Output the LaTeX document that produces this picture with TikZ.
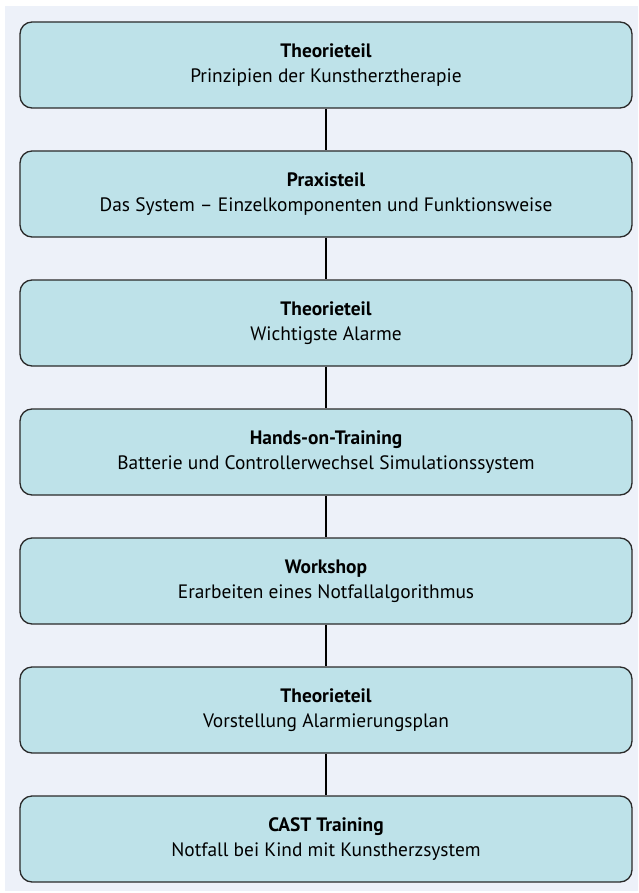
\documentclass[tikz,border=0pt]{standalone}
\usepackage{fontspec}
\setmainfont{PT Sans}
\definecolor{panelbg}{HTML}{EDF1F9}
\definecolor{boxfill}{HTML}{BEE2E9}
\definecolor{boxline}{HTML}{2A2A2A}
\begin{document}
\begin{tikzpicture}[x=1pt,y=-1pt,
  stepbox/.style={draw=boxline, line width=1.3pt, fill=boxfill, rounded corners=12pt,
    minimum width=612pt, minimum height=86pt, align=center, inner sep=0pt,
    font=\fontsize{19.4}{25}\selectfont},
  link/.style={draw=black, line width=2pt}]
\useasboundingbox (0,0) rectangle (638,893);
\fill[panelbg] (5,6) rectangle (638,891);
\node[stepbox] (b1) at (326,65) {\textbf{Theorieteil}\\Prinzipien der Kunstherztherapie};
\node[stepbox] (b2) at (326,194) {\textbf{Praxisteil}\\Das System – Einzelkomponenten und Funktionsweise};
\node[stepbox] (b3) at (326,323) {\textbf{Theorieteil}\\Wichtigste Alarme};
\node[stepbox] (b4) at (326,452) {\textbf{Hands-on-Training}\\Batterie und Controllerwechsel Simulationssystem};
\node[stepbox] (b5) at (326,581) {\textbf{Workshop}\\Erarbeiten eines Notfallalgorithmus};
\node[stepbox] (b6) at (326,710) {\textbf{Theorieteil}\\Vorstellung Alarmierungsplan};
\node[stepbox] (b7) at (326,839) {\textbf{CAST Training}\\Notfall bei Kind mit Kunstherzsystem};
\draw[link] (b1) -- (b2);
\draw[link] (b2) -- (b3);
\draw[link] (b3) -- (b4);
\draw[link] (b4) -- (b5);
\draw[link] (b5) -- (b6);
\draw[link] (b6) -- (b7);
\end{tikzpicture}
\end{document}
